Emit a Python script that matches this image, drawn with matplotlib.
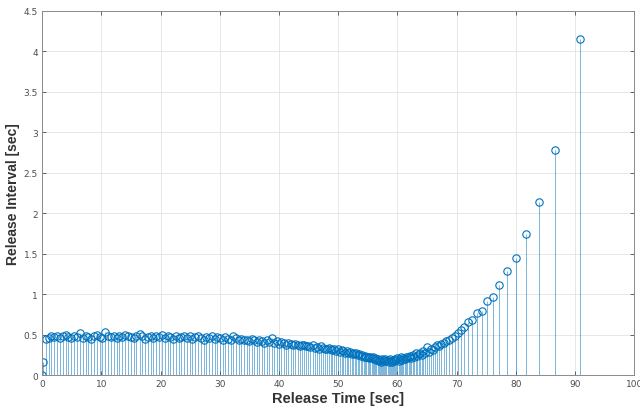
import numpy as np
import matplotlib.pyplot as plt

# release intervals [sec] in release order
start_intervals = [0.0, 0.17]
early_intervals = [
    0.45, 0.46, 0.48, 0.47, 0.49, 0.46, 0.48, 0.50, 0.47, 0.46,
    0.48, 0.47, 0.52, 0.46, 0.49, 0.47, 0.45, 0.48, 0.50, 0.47,
    0.46, 0.53, 0.48, 0.47, 0.49, 0.46, 0.48, 0.47, 0.50, 0.48,
    0.47, 0.46, 0.49, 0.51, 0.48, 0.45, 0.47, 0.48, 0.46, 0.49,
    0.47, 0.50, 0.46, 0.48, 0.47, 0.45, 0.48, 0.46, 0.47, 0.49,
    0.46, 0.48, 0.45, 0.47, 0.49, 0.46, 0.44, 0.47, 0.46, 0.48,
    0.45, 0.47,
]
middle_intervals = [
    0.46, 0.44, 0.47, 0.45, 0.43, 0.48, 0.46, 0.44, 0.45, 0.43,
    0.44, 0.42, 0.45, 0.43, 0.41, 0.44, 0.42, 0.40, 0.43, 0.41,
    0.46, 0.40, 0.42, 0.39, 0.41, 0.40, 0.38, 0.40, 0.39, 0.37,
    0.39, 0.38, 0.36, 0.38, 0.37, 0.36,
]
falling_intervals = [
    0.36, 0.35, 0.37, 0.34, 0.35, 0.33, 0.36, 0.34, 0.33, 0.32,
    0.34, 0.32, 0.31, 0.33, 0.30, 0.32, 0.29, 0.31, 0.30, 0.28,
    0.30, 0.27, 0.29, 0.26, 0.28, 0.26, 0.27, 0.25, 0.26, 0.24,
    0.25, 0.23, 0.24, 0.22, 0.23, 0.21, 0.22, 0.21, 0.22, 0.20,
]
minimum_intervals = [
    0.21, 0.19, 0.20, 0.18, 0.19, 0.17, 0.20, 0.18, 0.19, 0.20,
    0.18, 0.19, 0.17, 0.20, 0.18, 0.16, 0.19, 0.18, 0.20,
    0.19, 0.21, 0.18, 0.20, 0.22, 0.19, 0.21, 0.20, 0.23, 0.21,
]
rising_intervals = [
    0.22, 0.24, 0.21, 0.25, 0.23, 0.27, 0.24, 0.26, 0.28, 0.25,
    0.30, 0.28, 0.35, 0.29, 0.33, 0.31, 0.35, 0.37, 0.36, 0.39,
    0.40, 0.42, 0.44, 0.46, 0.49,
]
final_intervals = [
    0.52, 0.565, 0.595, 0.66, 0.685, 0.77, 0.79, 0.92, 0.97,
    1.12, 1.29, 1.45, 1.74, 2.14, 2.78, 4.15,
]

x_ticks = list(range(0, 101, 10))
y_ticks = [0, 0.5, 1, 1.5, 2, 2.5, 3, 3.5, 4, 4.5]
y_tick_labels = ["0", "0.5", "1", "1.5", "2", "2.5", "3", "3.5", "4", "4.5"]

intervals = np.array(start_intervals + early_intervals + middle_intervals
                     + falling_intervals + minimum_intervals
                     + rising_intervals + final_intervals)
# each interval is plotted at the time of the release that ends it
release_times = np.cumsum(intervals)

blue = "#0072BD"
axis_gray = "#4d4d4d"

fig = plt.figure(figsize=(6.4, 4.14), dpi=100)
ax = fig.add_axes([0.066, 0.091, 0.925, 0.881])

markers, stems, base = ax.stem(release_times, intervals, basefmt=" ")
plt.setp(stems, color=blue, linewidth=0.6, alpha=0.6)
plt.setp(markers, color=blue, markerfacecolor="none", markersize=5.3, markeredgewidth=0.8)

ax.set_xlim(0, 100)
ax.set_ylim(0, 4.5)
ax.set_xticks(x_ticks)
ax.set_yticks(y_ticks)
ax.set_yticklabels(y_tick_labels)
ax.grid(True, color="#e3e3e3", linewidth=0.6)
ax.set_axisbelow(True)
ax.tick_params(direction="in", length=3, width=0.6, labelsize=6.5,
               colors=axis_gray, top=True, right=True, pad=3)
for spine in ax.spines.values():
    spine.set_color("#8a8a8a")
    spine.set_linewidth(0.7)

ax.set_xlabel("Release Time [sec]", fontsize=10.5, fontweight="bold",
              family="Liberation Sans", color="#333333", labelpad=2)
ax.set_ylabel("Release Interval [sec]", fontsize=10, fontweight="bold",
              family="Liberation Sans", color="#333333", labelpad=3)

plt.savefig("out.png", dpi=100)
